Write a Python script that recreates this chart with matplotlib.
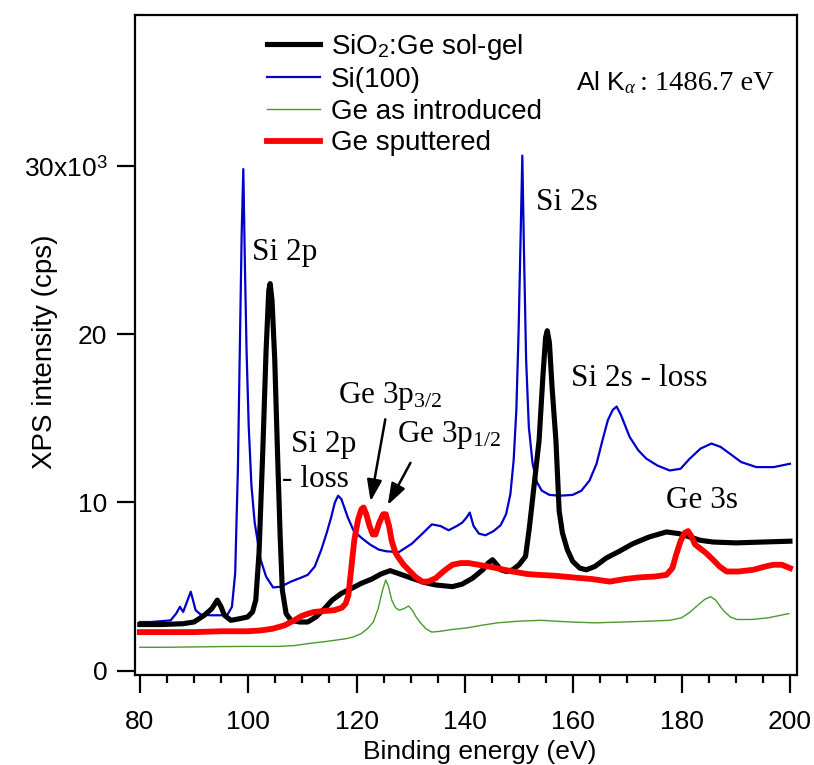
import matplotlib
matplotlib.use("Agg")
import matplotlib.pyplot as plt
from matplotlib.ticker import MultipleLocator

plt.rcParams["font.family"] = ["Liberation Sans", "DejaVu Sans"]
plt.rcParams["mathtext.fontset"] = "custom"
plt.rcParams["mathtext.rm"] = "Liberation Serif"
plt.rcParams["mathtext.it"] = "Liberation Serif:italic"
plt.rcParams["mathtext.sf"] = "Liberation Sans"

# spectra, (binding energy eV, intensity in 10^3 cps)
sol_gel = [
    (80, 2.75), (84, 2.75), (88, 2.8), (90, 2.9), (91.9, 3.3), (93.3, 3.7),
    (94.3, 4.2), (95.0, 3.8), (95.6, 3.3), (96.8, 3.0), (98.5, 3.1), (99.9, 3.2),
    (100.8, 3.5), (101.4, 4.2), (102.0, 7.0), (102.7, 13.1), (103.3, 19.0),
    (103.8, 22.6), (104.05, 23.0), (104.4, 22.0), (104.9, 18.5), (105.4, 13.1),
    (105.9, 8.0), (106.3, 4.8), (107.0, 3.4), (107.9, 3.0), (109.5, 2.9),
    (111.0, 2.9), (112.5, 3.2), (114.1, 3.7), (115.5, 4.2), (117.2, 4.6),
    (119.1, 4.9), (120.9, 5.2), (122.8, 5.45), (124.5, 5.75), (126.2, 5.95),
    (128.0, 5.75), (130.2, 5.5), (132.5, 5.25), (134.6, 5.1), (137.7, 5.0),
    (139.5, 5.15), (141.4, 5.5), (143.3, 6.0), (144.3, 6.4), (145.1, 6.6),
    (145.9, 6.3), (146.6, 6.0), (147.7, 5.9), (148.8, 6.0), (150.0, 6.3),
    (151.2, 6.8), (151.9, 8.5), (152.7, 10.8), (153.7, 13.7), (154.4, 17.5),
    (154.9, 19.8), (155.2, 20.2), (155.6, 19.5), (156.1, 16.8), (156.8, 13.7),
    (157.4, 9.5), (158.0, 8.2), (158.9, 7.2), (159.9, 6.5), (161.2, 6.1),
    (162.4, 6.0), (164.0, 6.2), (166.1, 6.7), (168.5, 7.1), (171.0, 7.55),
    (174.0, 7.95), (177.2, 8.25), (179.5, 8.15), (181.5, 7.95), (183.5, 7.75),
    (185.8, 7.65), (190.0, 7.6), (195.0, 7.65), (200.0, 7.7),
]

si100 = [
    (80, 2.9), (82, 2.9), (84, 2.95), (85.7, 3.0), (86.7, 3.4), (87.4, 3.8),
    (88.0, 3.5), (88.7, 4.1), (89.4, 4.7), (90.3, 3.6), (91.2, 3.35), (93.0, 3.3),
    (95.0, 3.3), (96.2, 3.35), (97.0, 3.8), (97.6, 5.8), (98.1, 12.0),
    (98.5, 20.0), (98.8, 26.0), (99.1, 29.8), (99.4, 24.0), (99.7, 19.0),
    (100.1, 14.5), (100.6, 11.0), (101.2, 8.8), (102.3, 6.6), (103.3, 5.6),
    (104.6, 4.95), (106.0, 5.0), (107.9, 5.3), (109.5, 5.5), (111.0, 5.7),
    (112.3, 6.2), (113.5, 7.2), (114.5, 8.2), (115.3, 9.1), (116.0, 10.0),
    (116.6, 10.4), (117.2, 10.2), (118.4, 9.1), (119.5, 8.3), (120.9, 7.9),
    (122.5, 7.5), (124.1, 7.2), (125.5, 7.1), (127.8, 7.05), (130.2, 7.55),
    (132.0, 8.1), (133.9, 8.7), (135.5, 8.6), (137.0, 8.35), (138.5, 8.6),
    (139.5, 8.8), (140.3, 9.1), (140.9, 9.4), (141.6, 8.6), (142.6, 8.15),
    (143.8, 8.05), (145.3, 8.3), (146.6, 8.65), (147.6, 9.3), (148.4, 10.5),
    (149.0, 12.5), (149.5, 15.5), (149.9, 20.0), (150.3, 26.0), (150.6, 30.6),
    (150.9, 25.0), (151.3, 18.5), (151.8, 14.5), (152.5, 12.3), (153.3, 11.2),
    (154.2, 10.7), (155.6, 10.45), (157.5, 10.4), (159.9, 10.45), (161.5, 10.7),
    (163.0, 11.3), (164.3, 12.3), (165.4, 13.7), (166.4, 14.9), (167.3, 15.5),
    (168.0, 15.7), (168.8, 15.2), (170.4, 13.9), (172.0, 13.1), (173.5, 12.6),
    (175.5, 12.2), (177.8, 11.9), (179.8, 12.0), (181.5, 12.6), (183.5, 13.2),
    (185.5, 13.5), (187.2, 13.3), (188.9, 12.9), (191.0, 12.4), (193.8, 12.1),
    (197.0, 12.1), (200.0, 12.3),
]

ge_introduced = [
    (80, 1.4), (85, 1.4), (90, 1.42), (95, 1.44), (100, 1.45), (105.6, 1.45),
    (108.5, 1.5), (111.6, 1.64), (114.5, 1.75), (117.9, 1.9), (119.3, 2.0),
    (120.8, 2.2), (122.0, 2.5), (123.1, 2.9), (124.0, 3.7), (124.8, 4.8),
    (125.4, 5.4), (125.9, 5.0), (126.5, 4.2), (127.2, 3.75), (127.9, 3.6),
    (128.8, 3.7), (129.6, 3.85), (130.3, 3.6), (131.0, 3.2), (131.8, 2.85),
    (132.8, 2.5), (133.9, 2.3), (135.5, 2.35), (137.5, 2.45), (140.4, 2.55),
    (143.0, 2.7), (146.0, 2.85), (150.0, 2.95), (154.0, 3.0), (159.6, 2.9),
    (164.0, 2.85), (169.1, 2.9), (174.0, 2.95), (177.8, 3.0), (180.0, 3.15),
    (181.6, 3.5), (183.0, 3.9), (184.3, 4.25), (185.4, 4.4), (186.3, 4.2),
    (187.2, 3.8), (187.8, 3.55), (189.0, 3.2), (190.2, 3.05), (193.0, 3.05),
    (196.0, 3.15), (199.8, 3.4),
]

ge_sputtered = [
    (80, 2.3), (85, 2.3), (90, 2.3), (95, 2.35), (100, 2.35), (102.3, 2.4),
    (104.5, 2.5), (106.7, 2.7), (108.5, 3.0), (109.8, 3.25), (111.1, 3.4),
    (112.2, 3.5), (114.0, 3.55), (115.9, 3.6), (117.3, 3.75), (118.0, 4.0),
    (118.5, 4.5), (119.0, 6.0), (119.6, 7.8), (120.3, 9.0), (120.9, 9.6),
    (121.3, 9.7), (121.8, 9.3), (122.4, 8.6), (123.0, 8.1), (123.5, 8.1),
    (124.2, 8.8), (124.9, 9.3), (125.4, 9.3), (126.0, 8.6), (126.5, 7.7),
    (127.2, 7.0), (127.8, 6.7), (128.7, 6.3), (129.6, 6.0), (130.8, 5.6),
    (132.1, 5.3), (133.2, 5.3), (134.6, 5.5), (136.2, 5.95), (137.7, 6.3),
    (139.2, 6.4), (140.7, 6.4), (142.5, 6.3), (145.1, 6.15), (148.8, 5.9),
    (151.5, 5.75), (153.7, 5.7), (156.5, 5.65), (159.9, 5.55), (163.5, 5.45),
    (166.7, 5.3), (169.5, 5.45), (172.2, 5.55), (175.0, 5.6), (177.2, 5.7),
    (178.3, 6.1), (179.0, 6.9), (179.8, 7.7), (180.6, 8.2), (181.2, 8.3),
    (181.8, 8.0), (182.5, 7.5), (183.3, 7.3), (184.5, 7.0), (185.8, 6.6),
    (187.0, 6.2), (188.3, 5.9), (190.5, 5.9), (193.2, 6.0), (195.5, 6.2),
    (196.9, 6.3), (198.5, 6.3), (200.0, 6.1),
]

labels = ["SiO$_\\mathsf{2}$:Ge sol-gel", "Si(100)", "Ge as introduced", "Ge sputtered"]


def xy(points):
    x = [p[0] for p in points]
    y = [p[1] * 1000 for p in points]
    return x, y


fig = plt.figure(figsize=(8.14, 7.65), dpi=100)
ax = fig.add_axes([0.1658, 0.1176, 0.8133, 0.8627])

l_green, = ax.plot(*xy(ge_introduced), color="#4a9a2c", lw=1.0)
l_blue, = ax.plot(*xy(si100), color="#0000c8", lw=1.6)
l_black, = ax.plot(*xy(sol_gel), color="black", lw=3.7)
l_red, = ax.plot(*xy(ge_sputtered), color="#ff0000", lw=4.2)

ax.set_xlim(79.1, 201.3)
ax.set_ylim(-250, 38950)

ax.xaxis.set_major_locator(MultipleLocator(20))
ax.xaxis.set_minor_locator(MultipleLocator(5))
ax.set_yticks([0, 10000, 20000, 30000])
ax.set_yticklabels(["0", "10", "20", "30x10$^\\mathsf{3}$"])
ax.tick_params(axis="both", which="major", direction="out", length=13, width=1.6,
               labelsize=19, top=False, right=False)
ax.tick_params(axis="x", which="minor", direction="out", length=5.5, width=1.6)
ax.tick_params(axis="x", which="major", pad=12)
ax.tick_params(axis="y", which="major", pad=7)
for s in ax.spines.values():
    s.set_linewidth(1.6)

ax.set_xlabel("Binding energy (eV)", fontsize=19)
ax.set_ylabel("XPS intensity (cps)", fontsize=20)
ax.xaxis.set_label_coords(0.52, -0.098)
ax.yaxis.set_label_coords(-0.117, 0.49)

ax.legend([l_black, l_blue, l_green, l_red], labels, loc="upper left",
          bbox_to_anchor=(0.2, 0.975), frameon=False, fontsize=20,
          handlelength=1.9, handletextpad=0.4, labelspacing=0.2,
          borderpad=0, borderaxespad=0)

serif = dict(family="Liberation Serif", fontsize=22.5)
ax.text(100.7, 24400, "Si 2p", **serif)
ax.text(107.9, 13000, "Si 2p", **serif)
ax.text(106.3, 10900, "- loss", **serif)
ax.text(116.6, 15900, "Ge 3p$_{3/2}$", **serif)
ax.text(127.4, 13600, "Ge 3p$_{1/2}$", **serif)
ax.text(153.1, 27400, "Si 2s", **serif)
ax.text(159.6, 16900, "Si 2s - loss", **serif)
ax.text(177.2, 9700, "Ge 3s", **serif)
ax.text(160.5, 34500, "Al K$_\\alpha$", fontsize=19)
ax.text(172.3, 34500, ": 1486.7 eV", family="Liberation Serif", fontsize=20.5)

arrow = dict(arrowstyle="-|>,head_length=1.3,head_width=0.45", color="black", lw=1.8)
ax.annotate("", xy=(122.5, 9900), xytext=(125.4, 15100), arrowprops=arrow)
ax.annotate("", xy=(125.5, 9700), xytext=(130.2, 12500), arrowprops=arrow)

fig.savefig("out.png", dpi=100)
